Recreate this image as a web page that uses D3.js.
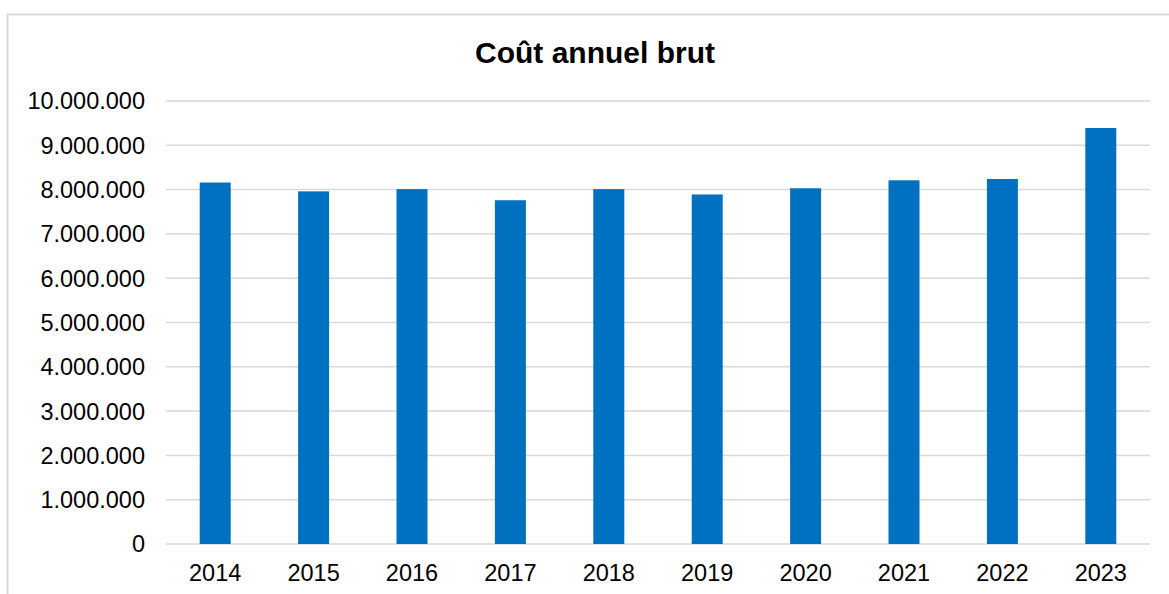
<!DOCTYPE html>
<html>
<head>
<meta charset="utf-8">
<script src="https://cdn.jsdelivr.net/npm/d3@7"></script>
<style>
    body { margin: 0; background: #fff; }
    text { font-family: "Liberation Sans", Arial, sans-serif; fill: #000; }
</style>
</head>
<body>
<svg id="chart" width="1169" height="594"></svg>
<script>
// data
var years = ["2014", "2015", "2016", "2017", "2018", "2019", "2020", "2021", "2022", "2023"]
var cost = [8160000, 7960000, 8010000, 7760000, 8010000, 7890000, 8030000, 8210000, 8240000, 9390000]
var yTicks = [0, 1000000, 2000000, 3000000, 4000000, 5000000, 6000000, 7000000, 8000000, 9000000, 10000000]

var svg = d3.select("#chart")
var plotLeft = 166, plotRight = 1150, plotTop = 101, plotBottom = 544

// chart frame (cut by the right and bottom edges)
svg.append("rect")
    .attr("x", 7.5).attr("y", 14.5)
    .attr("width", 1300).attr("height", 700)
    .attr("fill", "none")
    .attr("stroke", "#d9d9d9")
    .attr("stroke-width", 2)

var x = d3.scaleBand()
    .domain(years)
    .range([plotLeft, plotRight])
    .paddingInner(0.685)
    .paddingOuter(0.3425)

var y = d3.scaleLinear()
    .domain([0, 10000000])
    .range([plotBottom, plotTop])

var fmt = function(v){ return d3.format(",")(v).replace(/,/g, ".") }

// gridlines
svg.append("g")
    .selectAll("line")
    .data(yTicks)
    .enter()
        .append("line")
        .attr("x1", plotLeft).attr("x2", plotRight)
        .attr("y1", function(d){ return y(d) })
        .attr("y2", function(d){ return y(d) })
        .attr("stroke", "#d9d9d9")
        .attr("stroke-width", 1.5)

// y labels
svg.append("g")
    .selectAll("text")
    .data(yTicks)
    .enter()
        .append("text")
        .attr("x", 145)
        .attr("y", function(d){ return y(d) })
        .attr("dy", "0.36em")
        .attr("text-anchor", "end")
        .style("font-size", "23.5px")
        .text(fmt)

// bars
svg.append("g")
    .selectAll("rect")
    .data(cost)
    .enter()
        .append("rect")
        .attr("x", function(d, i){ return x(years[i]) })
        .attr("width", x.bandwidth())
        .attr("y", function(d){ return y(d) })
        .attr("height", function(d){ return y(0) - y(d) })
        .attr("fill", "#0070C0")

// x labels
svg.append("g")
    .selectAll("text")
    .data(years)
    .enter()
        .append("text")
        .attr("x", function(d){ return x(d) + x.bandwidth() / 2 })
        .attr("y", 581)
        .attr("text-anchor", "middle")
        .style("font-size", "23.5px")
        .text(function(d){ return d })

// title
svg.append("text")
    .attr("x", 595)
    .attr("y", 63)
    .attr("text-anchor", "middle")
    .style("font-size", "30px")
    .style("font-weight", "bold")
    .text("Coût annuel brut")
</script>
</body>
</html>
